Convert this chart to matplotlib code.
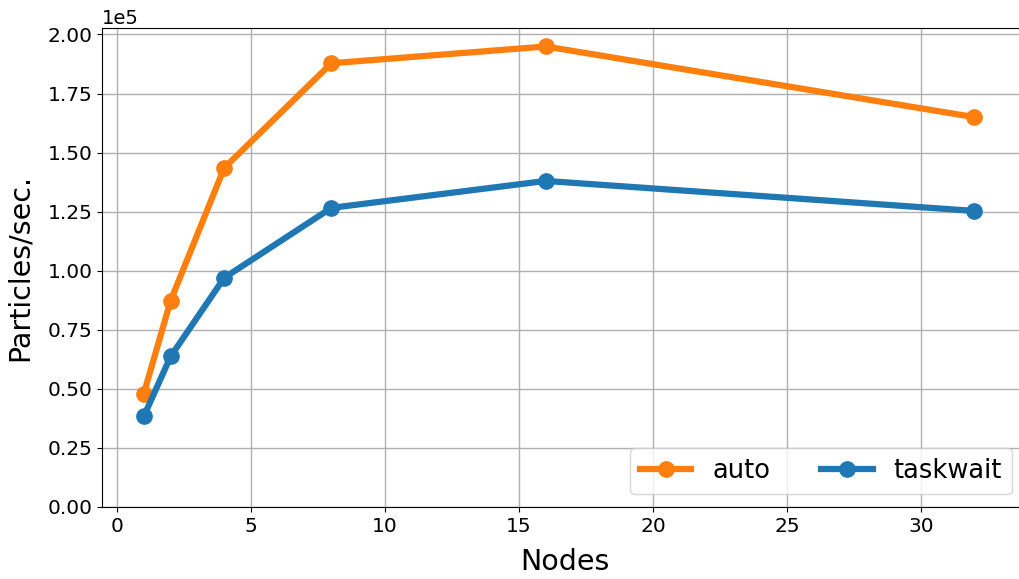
import matplotlib
matplotlib.use("Agg")
import matplotlib.pyplot as plt

# Nodes vs. throughput
nodes = [1, 2, 4, 8, 16, 32]
auto = [0.48e5, 0.873e5, 1.435e5, 1.878e5, 1.949e5, 1.650e5]
taskwait = [0.384e5, 0.637e5, 0.970e5, 1.266e5, 1.380e5, 1.253e5]

fig = plt.figure(figsize=(10.19, 5.79), dpi=100)
# axes run past the right edge of the picture, as in the original crop
ax = fig.add_axes([102.3 / 1019, 1 - 507 / 579, 925.7 / 1019, 479 / 579])

ax.plot(nodes, auto, marker='o', color='#ff7f0e', linewidth=4.5, markersize=11, label='auto')
ax.plot(nodes, taskwait, marker='o', color='#1f77b4', linewidth=4.5, markersize=11, label='taskwait')

ax.set_xlim(-0.55, 34)
ax.set_ylim(bottom=0)
ax.ticklabel_format(axis='y', style='sci', scilimits=(0, 0))
ax.set_xlabel("Nodes", fontsize=20.5, labelpad=9)
ax.set_ylabel("Particles/sec.", fontsize=20.5, labelpad=10)
ax.tick_params(labelsize=14.5)
ax.yaxis.get_offset_text().set_fontsize(14)
ax.grid(True, linewidth=1)
ax.legend(loc='lower right', ncol=2, fontsize=18.5, bbox_to_anchor=(0.9966, 0.0))

fig.savefig("out.png", dpi=100)
